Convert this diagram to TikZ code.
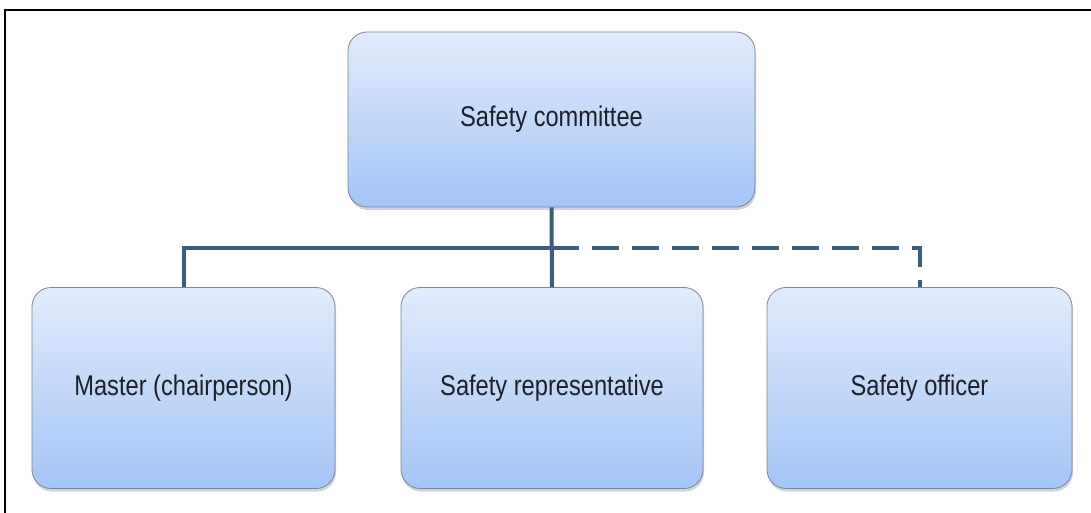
\documentclass[tikz,border=0pt]{standalone}
\usepackage{fontspec}
\setmainfont{Liberation Sans}
\newfontfamily\boxfont{Liberation Sans}[FakeStretch=0.83]
\usepackage{tikz}
\usetikzlibrary{positioning, shadows, calc}
\usepackage{xcolor}
\definecolor{linkblue}{RGB}{59, 92, 130}
\definecolor{boxtop}{RGB}{226, 235, 252}
\definecolor{boxbottom}{RGB}{163, 196, 246}
\definecolor{boxedge}{RGB}{125, 135, 150}
\definecolor{boxtext}{RGB}{28, 32, 42}
\tikzstyle{member} = [draw=boxedge, line width=0.8pt, rounded corners=19pt, top color=boxtop, bottom color=boxbottom, drop shadow={opacity=0.35, shadow xshift=1pt, shadow yshift=-3pt}, text=boxtext, font=\boxfont\fontsize{28.5}{32}\selectfont, inner sep=0pt]
\tikzstyle{link} = [line width=4pt, linkblue]
\tikzstyle{sidelink} = [link, dash pattern=on 27pt off 13pt]

\begin{document}
\begin{tikzpicture}[x=1pt, y=1pt]
\useasboundingbox (0,0) rectangle (1091,-513);
% outer frame
\draw[line width=2pt, black] (5,-600) -- (5,-10) -- (1200,-10);
% committee and members
\node[member, minimum width=407pt, minimum height=175pt] (committee) at (551.5,-119.5) {Safety committee};
\node[member, minimum width=303pt, minimum height=201pt] (master) at (183.5,-388) {Master (chairperson)};
\node[member, minimum width=302pt, minimum height=201pt] (rep) at (552,-388) {Safety representative};
\node[member, minimum width=305pt, minimum height=201pt] (officer) at (919.5,-388) {Safety officer};
\coordinate (hub) at (551.5,-248);
% connectors
\draw[link] (committee.south) -- (rep.north);
\draw[link] (hub) -| (master.north);
\draw[sidelink] (hub) -| (officer.north);
\end{tikzpicture}
\end{document}
